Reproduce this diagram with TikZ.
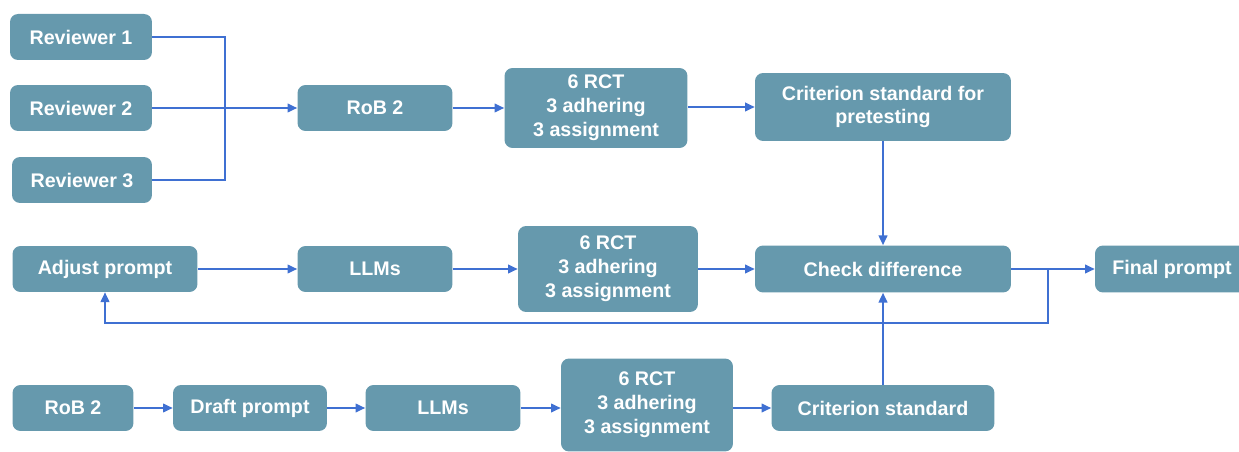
\documentclass[tikz,border=0pt]{standalone}
\usepackage{fontspec}
\setmainfont{Liberation Sans}
\usepackage{xcolor}
\usetikzlibrary{arrows.meta}
\definecolor{boxfill}{HTML}{6699AD}
\definecolor{linkblue}{HTML}{3F70D2}
\tikzset{
    stepbox/.style={draw=none, fill=boxfill, rounded corners=0.16cm, text=white,
        font=\fontsize{11.2}{13.6}\selectfont\bfseries, align=center,
        inner sep=0pt, minimum height=0.92cm},
    link/.style={draw=linkblue, line width=0.85pt}
}

\begin{document}
\begin{tikzpicture}[>={Stealth[length=5.5pt, width=5pt, inset=0pt]}, x=0.02cm, y=-0.02cm]
    \useasboundingbox (0,0) rectangle (1239,452);

    % first row: reviewers and pretesting standard
    \node[stepbox, minimum width=2.84cm] (rev1) at (81,37) {Reviewer 1};
    \node[stepbox, minimum width=2.84cm] (rev2) at (81,108) {Reviewer 2};
    \node[stepbox, minimum width=2.80cm] (rev3) at (82,180) {Reviewer 3};
    \node[stepbox, minimum width=3.1cm] (robA) at (375,108) {RoB 2};
    \node[stepbox, minimum width=3.66cm, minimum height=1.6cm] (rctA) at (596,108)
        {6 RCT\\3 adhering\\3 assignment};
    \node[stepbox, minimum width=5.12cm, minimum height=1.36cm] (critA) at (883,107)
        {Criterion standard for\\pretesting};

    % second row: prompt adjustment loop
    \node[stepbox, minimum width=3.7cm] (adjust) at (105,269) {Adjust prompt};
    \node[stepbox, minimum width=3.1cm] (llmB) at (375,269) {LLMs};
    \node[stepbox, minimum width=3.6cm, minimum height=1.72cm] (rctB) at (608,269)
        {6 RCT\\3 adhering\\3 assignment};
    \node[stepbox, minimum width=5.12cm, minimum height=0.94cm] (check) at (883,269)
        {Check difference};
    \node[stepbox, minimum width=3.08cm, minimum height=0.94cm] (final) at (1172,269)
        {Final prompt};

    % third row: draft prompt
    \node[stepbox, minimum width=2.42cm] (robC) at (73,408) {RoB 2};
    \node[stepbox, minimum width=3.08cm] (draft) at (250,408) {Draft prompt};
    \node[stepbox, minimum width=3.1cm] (llmC) at (443,408) {LLMs};
    \node[stepbox, minimum width=3.44cm, minimum height=1.86cm] (rctC) at (647,405)
        {6 RCT\\3 adhering\\3 assignment};
    \node[stepbox, minimum width=4.46cm] (critC) at (883,408) {Criterion standard};

    % reviewers merge into RoB 2
    \coordinate (merge) at (225,108);
    \draw[link] (rev1.east) -| (merge);
    \draw[link] (rev3.east) -| (merge);
    \draw[link, ->] (rev2.east) -- (robA.west);
    \draw[link, ->] (robA) -- (rctA);
    \draw[link, ->] (rctA.east |- critA.west) -- (critA.west);
    \draw[link, ->] (critA) -- (check);

    % second row
    \draw[link, ->] (adjust) -- (llmB);
    \draw[link, ->] (llmB) -- (rctB);
    \draw[link, ->] (rctB) -- (check);
    \draw[link, ->] (check) -- (final);
    \coordinate (split) at (1048,269);
    \coordinate (back) at (1048,323);
    \draw[link, ->] (split) -- (back) -| (adjust.south);

    % third row
    \draw[link, ->] (robC) -- (draft);
    \draw[link, ->] (draft) -- (llmC);
    \draw[link, ->] (llmC) -- (rctC.west |- llmC.east);
    \draw[link, ->] (rctC.east |- critC.west) -- (critC.west);
    \draw[link, ->] (critC) -- (check);
\end{tikzpicture}
\end{document}
